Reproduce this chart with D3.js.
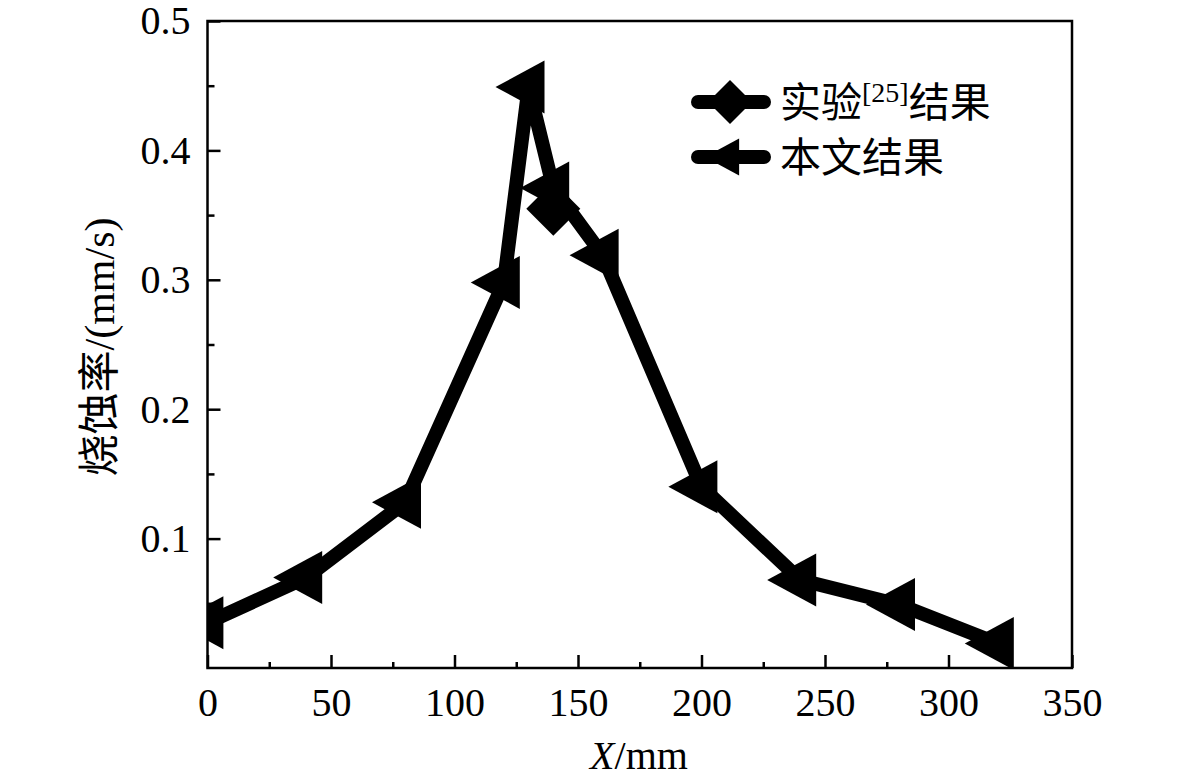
<!DOCTYPE html>
<html>
<head>
<meta charset="utf-8">
<script src="https://cdn.jsdelivr.net/npm/d3@7"></script>
<style>
  body { margin: 0; background: #fff; }
  text { font-family: "Liberation Serif", "Noto Sans CJK SC", serif; fill: #000; }
</style>
</head>
<body>
<div class="canvas"></div>
<script>
// data
const positions = [0, 40, 80, 120, 130, 140, 160, 200, 240, 280, 320];
const simulation = [0.035, 0.07, 0.128, 0.298, 0.449, 0.371, 0.319, 0.14, 0.068, 0.049, 0.019];
// only the experimental point that is not hidden under the simulation markers
const expPositions = [140];
const experiment = [0.355];
const xTicks = [0, 50, 100, 150, 200, 250, 300, 350];
const yTicks = [0.1, 0.2, 0.3, 0.4, 0.5];
const seriesNames = ["实验", "本文结果"];

const width = 1181, height = 783;
const margin = { top: 21, right: 109, bottom: 115, left: 207.5 };
const graphWidth = width - margin.left - margin.right;
const graphHeight = height - margin.top - margin.bottom;

const svg = d3.select(".canvas")
    .append("svg")
    .attr("width", width)
    .attr("height", height);

const graph = svg.append("g")
    .attr("transform", `translate(${margin.left}, ${margin.top})`);

const x = d3.scaleLinear().domain([0, 350]).range([0, graphWidth]);
const y = d3.scaleLinear().domain([0, 0.5]).range([graphHeight, 0]);

svg.append("defs").append("clipPath")
    .attr("id", "plot-clip")
    .append("rect")
    .attr("width", graphWidth)
    .attr("height", graphHeight);

// minor ticks
graph.append("g")
    .attr("transform", `translate(0, ${graphHeight})`)
    .call(d3.axisBottom(x).tickValues(d3.range(25, 350, 50)).tickSize(-6).tickFormat(""))
    .call(g => g.select(".domain").remove());
graph.append("g")
    .call(d3.axisLeft(y).tickValues(d3.range(0.05, 0.5, 0.1)).tickSize(-7).tickFormat(""))
    .call(g => g.select(".domain").remove());

// major ticks
const xAxisGroup = graph.append("g")
    .attr("transform", `translate(0, ${graphHeight})`)
    .call(d3.axisBottom(x).tickValues(xTicks).tickSize(-13).tickPadding(20).tickFormat(d3.format("d")));
const yAxisGroup = graph.append("g")
    .call(d3.axisLeft(y).tickValues(yTicks).tickSize(-13).tickPadding(17).tickFormat(d3.format(".1f")));

[xAxisGroup, yAxisGroup].forEach(g => {
    g.select(".domain").remove();
    g.selectAll("text").attr("font-size", 40).attr("font-family", "Liberation Serif");
});
graph.selectAll(".tick line").attr("stroke", "#000").attr("stroke-width", 2.5);

graph.append("rect")
    .attr("width", graphWidth)
    .attr("height", graphHeight)
    .attr("fill", "none")
    .attr("stroke", "#000")
    .attr("stroke-width", 2.5);

const diamond = s => `M0,${-s}L${s},0L0,${s}L${-s},0Z`;
const leftTri = s => `M${-s * 1.25},0L${s * 0.6},${-s}L${s * 0.6},${s}Z`;

const line = d3.line()
    .x(d => x(d[0]))
    .y(d => y(d[1]));

const plot = graph.append("g").attr("clip-path", "url(#plot-clip)");

const drawSeries = (xs, values, symbol) => {
    const pts = xs.map((p, i) => [p, values[i]]);
    if (pts.length > 1) {
        plot.append("path")
            .datum(pts)
            .attr("d", line)
            .attr("fill", "none")
            .attr("stroke", "#000")
            .attr("stroke-width", 14)
            .attr("stroke-linejoin", "miter");
    }
    plot.selectAll(null)
        .data(pts)
        .enter()
        .append("path")
        .attr("d", symbol)
        .attr("transform", d => `translate(${x(d[0])}, ${y(d[1])})`)
        .attr("fill", "#000");
};

drawSeries(expPositions, experiment, diamond(27));
drawSeries(positions, simulation, leftTri(26.5));

// legend
const legend = svg.append("g").attr("transform", "translate(692, 0)");
const rows = [
    { y: 102, symbol: diamond(22), cx: 38, name: seriesNames[0], sup: "[25]", tail: "结果" },
    { y: 157, symbol: leftTri(18.5), cx: 36, name: seriesNames[1] }
];
rows.forEach(r => {
    legend.append("line")
        .attr("x1", 6).attr("x2", 72)
        .attr("y1", r.y).attr("y2", r.y)
        .attr("stroke", "#000")
        .attr("stroke-width", 14)
        .attr("stroke-linecap", "round");
    legend.append("path")
        .attr("d", r.symbol)
        .attr("transform", `translate(${r.cx}, ${r.y})`)
        .attr("fill", "#000");
    const t = legend.append("text")
        .attr("x", 88)
        .attr("y", r.y + 15)
        .attr("font-size", 41)
        .attr("font-family", "Noto Sans CJK SC");
    t.append("tspan").text(r.name);
    if (r.sup) {
        t.append("tspan").text(r.sup)
            .attr("font-family", "Liberation Serif")
            .attr("font-size", 28)
            .attr("dy", -15);
        t.append("tspan").text(r.tail).attr("dy", 15);
    }
});

// axis titles
const yt = svg.append("text")
    .attr("transform", "translate(114, 347) rotate(-90)")
    .attr("text-anchor", "middle");
yt.append("tspan").attr("font-family", "Noto Sans CJK SC").attr("font-size", 42).text("烧蚀率");
yt.append("tspan").attr("font-family", "Liberation Serif").attr("font-size", 42).text("/(mm/s)");

const xt = svg.append("text")
    .attr("x", 639)
    .attr("y", 769)
    .attr("text-anchor", "middle")
    .attr("font-size", 40)
    .attr("font-family", "Liberation Serif");
xt.append("tspan").attr("font-style", "italic").text("X");
xt.append("tspan").text("/mm");
</script>
</body>
</html>
